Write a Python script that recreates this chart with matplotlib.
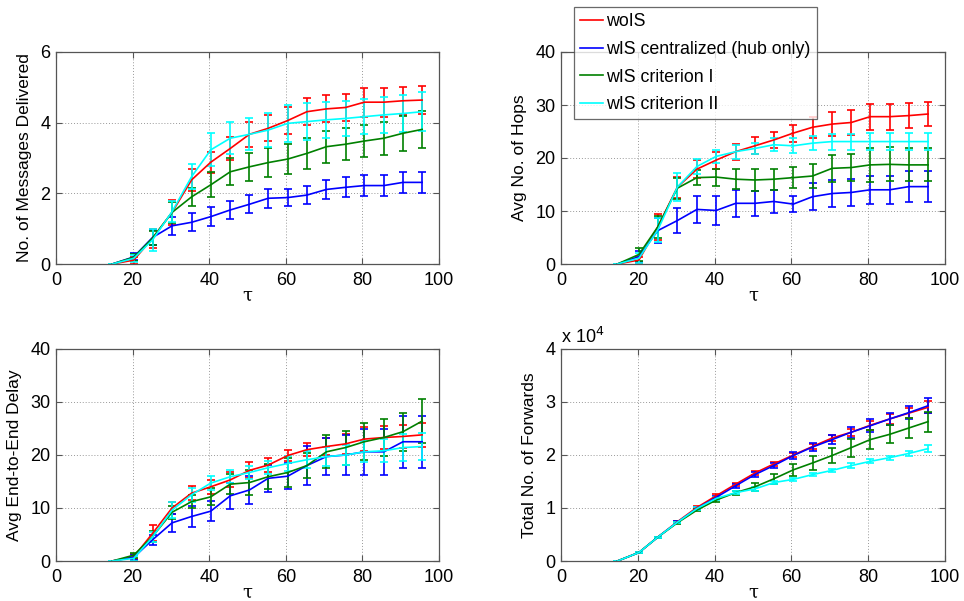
import matplotlib
matplotlib.use("Agg")
import matplotlib.pyplot as plt
from matplotlib.ticker import FuncFormatter
from matplotlib.lines import Line2D

plt.rcParams['font.family'] = ['Liberation Sans', 'DejaVu Sans']

tau = [14.7, 20.3, 25.2, 30.3, 35.4, 40.4, 45.5, 50.5, 55.4, 60.5, 65.5, 70.6, 75.6, 80.5, 85.6, 90.6, 95.6]
series_names = ["woIS", "wIS centralized (hub only)", "wIS criterion I", "wIS criterion II"]
series_colors = ["#ff0000", "#0000ff", "#008000", "#00ffff"]

# Panel 1: No. of Messages Delivered
msg_woIS = [0, 0.11, 0.73, 1.46, 2.38, 2.88, 3.27, 3.67, 3.84, 4.06, 4.31, 4.39, 4.43, 4.58, 4.58, 4.62, 4.64]
msg_woIS_err = [0, 0.1, 0.27, 0.35, 0.3, 0.3, 0.32, 0.35, 0.37, 0.38, 0.38, 0.38, 0.39, 0.41, 0.41, 0.4, 0.4]
msg_central = [0, 0.2, 0.75, 1.08, 1.18, 1.34, 1.53, 1.69, 1.86, 1.88, 1.95, 2.11, 2.17, 2.22, 2.22, 2.31, 2.31]
msg_central_err = [0, 0.1, 0.2, 0.26, 0.25, 0.27, 0.25, 0.25, 0.27, 0.25, 0.25, 0.27, 0.28, 0.29, 0.29, 0.3, 0.3]
msg_crit1 = [0, 0.19, 0.73, 1.46, 1.9, 2.24, 2.61, 2.75, 2.87, 2.97, 3.13, 3.32, 3.39, 3.48, 3.56, 3.7, 3.81]
msg_crit1_err = [0, 0.1, 0.2, 0.3, 0.25, 0.35, 0.38, 0.4, 0.42, 0.43, 0.45, 0.45, 0.45, 0.45, 0.47, 0.5, 0.52]
msg_crit2 = [0, 0.16, 0.68, 1.48, 2.47, 3.23, 3.56, 3.67, 3.79, 3.98, 4.03, 4.08, 4.12, 4.17, 4.22, 4.26, 4.31]
msg_crit2_err = [0, 0.1, 0.3, 0.3, 0.35, 0.47, 0.45, 0.45, 0.48, 0.53, 0.52, 0.5, 0.5, 0.5, 0.52, 0.53, 0.55]

# Panel 2: Avg No. of Hops
hop_woIS = [0, 0.75, 7.0, 14.5, 17.9, 19.6, 21.2, 22.3, 23.4, 24.7, 25.8, 26.4, 26.7, 27.8, 27.8, 28.0, 28.3]
hop_woIS_err = [0, 0.5, 2.4, 2.0, 1.7, 1.6, 1.5, 1.6, 1.6, 1.6, 2.0, 2.2, 2.3, 2.45, 2.45, 2.4, 2.35]
hop_central = [0, 1.4, 6.3, 8.2, 10.3, 10.1, 11.45, 11.45, 11.8, 11.3, 12.7, 13.3, 13.5, 14.0, 14.0, 14.6, 14.6]
hop_central_err = [0, 1.0, 2.3, 2.4, 2.6, 2.7, 2.5, 2.3, 2.2, 1.5, 2.6, 2.6, 2.5, 2.6, 2.6, 2.9, 2.9]
hop_crit1 = [0, 1.8, 7.0, 14.3, 16.3, 16.4, 16.0, 15.85, 16.0, 16.3, 16.6, 18.05, 18.2, 18.7, 18.8, 18.7, 18.7]
hop_crit1_err = [0, 1.3, 2.0, 2.0, 1.4, 1.6, 1.9, 2.0, 2.0, 2.05, 2.2, 2.5, 2.6, 3.2, 3.2, 3.1, 3.1]
hop_crit2 = [0, 1.1, 6.4, 14.5, 18.4, 20.3, 21.2, 21.8, 22.5, 22.3, 22.8, 23.1, 23.1, 23.1, 23.1, 23.1, 23.1]
hop_crit2_err = [0, 1.0, 2.3, 2.7, 1.5, 1.25, 1.3, 1.1, 1.2, 1.4, 1.3, 1.5, 1.5, 1.6, 1.6, 1.6, 1.6]

# Panel 3: Avg End-to-End Delay
dly_woIS = [0, 0.8, 5.2, 10.0, 12.8, 14.0, 15.3, 17.1, 18.1, 19.9, 21.0, 21.6, 22.1, 23.0, 23.3, 23.5, 23.8]
dly_woIS_err = [0, 0.5, 1.5, 1.2, 1.3, 1.3, 1.4, 1.5, 1.3, 1.1, 1.2, 1.6, 1.9, 2.3, 2.2, 2.2, 2.2]
dly_central = [0, 0.7, 4.0, 7.2, 8.4, 9.4, 12.3, 13.4, 15.6, 16.0, 18.0, 19.7, 20.0, 20.6, 20.6, 22.5, 22.5]
dly_central_err = [0, 0.5, 1.0, 1.7, 1.9, 1.9, 2.5, 2.7, 2.6, 2.5, 3.7, 3.5, 3.7, 4.4, 4.4, 4.9, 4.9]
dly_crit1 = [0, 1.1, 4.6, 9.2, 11.2, 12.1, 14.5, 14.8, 15.9, 16.7, 18.0, 20.6, 21.4, 22.5, 23.3, 24.4, 26.4]
dly_crit1_err = [0, 0.5, 1.0, 1.2, 1.2, 1.6, 1.9, 2.3, 2.4, 2.7, 2.4, 3.1, 3.2, 3.5, 3.5, 3.6, 4.1]
dly_crit2 = [0, 0.5, 4.5, 9.6, 12.5, 14.7, 15.9, 16.7, 17.6, 18.4, 19.1, 19.7, 20.0, 20.6, 20.8, 21.4, 21.6]
dly_crit2_err = [0, 0.5, 1.0, 1.5, 1.3, 1.3, 1.2, 1.2, 1.2, 1.4, 1.6, 1.8, 1.9, 2.0, 2.2, 2.5, 2.6]

# Panel 4: Total No. of Forwards
fwd_woIS = [0, 1600, 4500, 7400, 10100, 12300, 14500, 16600, 18300, 20000, 21600, 23200, 24300, 25600, 26800, 27900, 29000]
fwd_woIS_err = [0, 50, 100, 200, 250, 300, 300, 350, 400, 450, 500, 600, 700, 800, 900, 1000, 1100]
fwd_central = [0, 1600, 4500, 7300, 9900, 12000, 14200, 16300, 18000, 19900, 21500, 22900, 24300, 25500, 26800, 28000, 29300]
fwd_central_err = [0, 50, 100, 200, 250, 300, 350, 400, 500, 600, 700, 900, 1000, 1200, 1200, 1300, 1400]
fwd_crit1 = [0, 1600, 4500, 7200, 9600, 11500, 12900, 14000, 15500, 17200, 18500, 19900, 21400, 22900, 23900, 25100, 26300]
fwd_crit1_err = [0, 50, 100, 200, 250, 300, 400, 700, 900, 1100, 1300, 1500, 1700, 1800, 1700, 1800, 1900]
fwd_crit2 = [0, 1600, 4500, 7300, 9900, 11800, 12900, 13600, 14800, 15400, 16300, 17100, 18000, 18800, 19500, 20300, 21200]
fwd_crit2_err = [0, 50, 100, 150, 200, 300, 300, 300, 300, 300, 300, 300, 400, 400, 400, 500, 600]

W, H = 964, 601
fig = plt.figure(figsize=(W / 100, H / 100), dpi=100)


def rect(l, t, r, b):
    return [l / W, 1 - b / H, (r - l) / W, (b - t) / H]


panels = [
    (rect(56, 52, 439, 264), "No. of Messages Delivered", (0, 6), [0, 2, 4, 6],
     [(msg_woIS, msg_woIS_err), (msg_central, msg_central_err), (msg_crit1, msg_crit1_err), (msg_crit2, msg_crit2_err)]),
    (rect(561, 52, 945, 264), "Avg No. of Hops", (0, 40), [0, 10, 20, 30, 40],
     [(hop_woIS, hop_woIS_err), (hop_central, hop_central_err), (hop_crit1, hop_crit1_err), (hop_crit2, hop_crit2_err)]),
    (rect(56, 349, 439, 561), "Avg End-to-End Delay", (0, 40), [0, 10, 20, 30, 40],
     [(dly_woIS, dly_woIS_err), (dly_central, dly_central_err), (dly_crit1, dly_crit1_err), (dly_crit2, dly_crit2_err)]),
    (rect(561, 349, 945, 561), "Total No. of Forwards", (0, 40000), [0, 10000, 20000, 30000, 40000],
     [(fwd_woIS, fwd_woIS_err), (fwd_central, fwd_central_err), (fwd_crit1, fwd_crit1_err), (fwd_crit2, fwd_crit2_err)]),
]

spine_color = "#555555"
for i, (r, ylab, ylim, yticks, data) in enumerate(panels):
    ax = fig.add_axes(r)
    for (vals, errs), col, name in zip(data, series_colors, series_names):
        ax.errorbar(tau, vals, yerr=errs, color=col, lw=1.2, elinewidth=1.2,
                    capsize=3, capthick=1.2, label=name)
    ax.set_xlim(0, 100)
    ax.set_ylim(*ylim)
    ax.set_xticks([0, 20, 40, 60, 80, 100])
    ax.set_yticks(yticks)
    ax.grid(True, linestyle=(0, (1, 2)), color="#999999", linewidth=0.7)
    ax.tick_params(direction="in", length=4, top=True, right=True, labelsize=13,
                   color=spine_color)
    ax.tick_params(axis="x", pad=6)
    ax.tick_params(axis="y", pad=4)
    for s in ax.spines.values():
        s.set_color(spine_color)
        s.set_linewidth(0.9)
    ax.set_ylabel(ylab, fontsize=12.5, labelpad=6)
    ax.set_xlabel("τ", fontsize=13, labelpad=-2, family=['DejaVu Serif'])
    if i == 3:
        ax.yaxis.set_major_formatter(FuncFormatter(lambda v, p: "%g" % (v / 1e4)))
        ax.text(0.0, 1.01, "x 10$^{4}$", transform=ax.transAxes, fontsize=13,
                ha="left", va="bottom")

handles = [Line2D([], [], color=c, lw=1.2) for c in series_colors]
leg = fig.legend(handles=handles, labels=series_names, loc="upper left",
                 bbox_to_anchor=(574 / W, 1 - 7 / H), fontsize=12.8, frameon=True,
                 fancybox=False, edgecolor="#444444", handlelength=1.3,
                 handletextpad=0.15, borderpad=0.35, borderaxespad=0,
                 labelspacing=0.6)
leg.get_frame().set_linewidth(0.9)

fig.savefig("out.png", dpi=100)
